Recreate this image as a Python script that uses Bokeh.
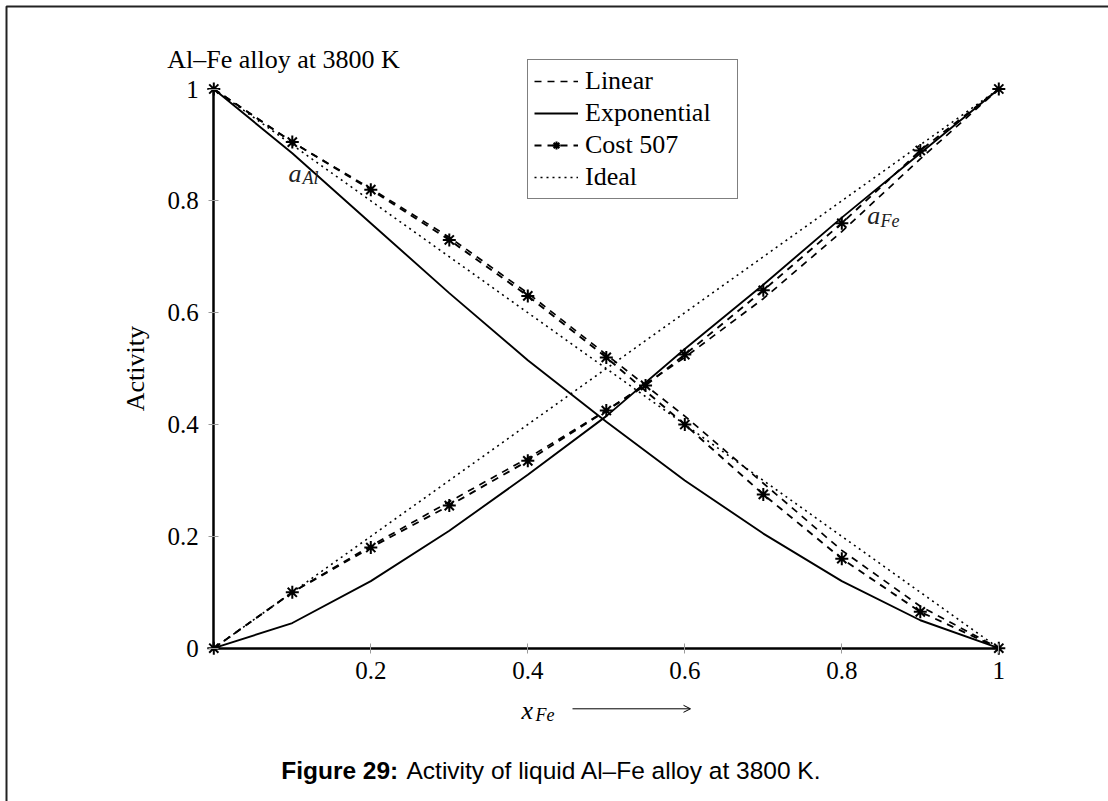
import math
from bokeh.plotting import figure
from bokeh.models import Range1d, FixedTicker, Legend, LegendItem, Arrow, OpenHead
from bokeh.embed import file_html
from bokeh.resources import INLINE
from bokeh.core.properties import value

# ---------------- data ----------------
x_frac = [0.0, 0.1, 0.2, 0.3, 0.4, 0.5, 0.6, 0.7, 0.8, 0.9, 1.0]

linear_al = [1.0, 0.905, 0.822, 0.735, 0.635, 0.525, 0.415, 0.295, 0.175, 0.075, 0.0]
linear_fe = [0.0, 0.100, 0.183, 0.262, 0.340, 0.425, 0.520, 0.625, 0.745, 0.875, 1.0]

expo_al = [1.0, 0.885, 0.760, 0.635, 0.515, 0.405, 0.300, 0.205, 0.120, 0.050, 0.0]
expo_fe = [0.0, 0.045, 0.120, 0.210, 0.310, 0.415, 0.535, 0.650, 0.770, 0.885, 1.0]

cost_x_al = [0.0, 0.1, 0.2, 0.3, 0.4, 0.5, 0.6, 0.7, 0.8, 0.9, 1.0]
cost_al = [1.0, 0.905, 0.820, 0.730, 0.630, 0.520, 0.400, 0.275, 0.160, 0.065, 0.0]
cost_x_fe = [0.0, 0.1, 0.2, 0.3, 0.4, 0.5, 0.55, 0.6, 0.7, 0.8, 0.9, 1.0]
cost_fe = [0.0, 0.100, 0.180, 0.255, 0.335, 0.425, 0.470, 0.525, 0.640, 0.760, 0.890, 1.0]

ideal_x = [0.0, 1.0]
ideal_al = [1.0, 0.0]
ideal_fe = [0.0, 1.0]

x_ticks = [0.2, 0.4, 0.6, 0.8, 1.0]
x_tick_labels = ["0.2", "0.4", "0.6", "0.8", "1"]
y_ticks = [0.0, 0.2, 0.4, 0.6, 0.8, 1.0]
y_tick_labels = ["0", "0.2", "0.4", "0.6", "0.8", "1"]

legend_labels = ["Linear", "Exponential", "Cost 507", "Ideal"]
title_text = "Al–Fe alloy at 3800 K"
ylabel_text = "Activity"
caption_bold = "Figure 29:"
caption_text = "Activity of liquid Al–Fe alloy at 3800 K."

# ---------------- layout helpers (pixel placement) ----------------
W, H = 1108, 801
X0_PX, X1_PX = 213.3, 998.3
Y0_PX, Y1_PX = 647.7, 88.5


def dx(px):
    return (px - X0_PX) / (X1_PX - X0_PX)


def dy(py):
    return (Y0_PX - py) / (Y0_PX - Y1_PX)


SERIF = value("Liberation Serif")
SANS = value("Liberation Sans")

p = figure(width=W, height=H, x_range=Range1d(dx(0), dx(W)), y_range=Range1d(dy(H), dy(0)),
           min_border=0, toolbar_location=None, output_backend="svg", title=None)
p.outline_line_color = None
p.grid.visible = False
p.background_fill_color = "white"
p.border_fill_color = "white"

# axes through the origin
for ax in (p.xaxis[0], p.yaxis[0]):
    ax.fixed_location = 0
    ax.bounds = (0, 1)
    ax.axis_line_width = 2.5
    ax.axis_line_color = "black"
    ax.major_tick_in = 5
    ax.major_tick_out = 5
    ax.major_tick_line_color = "#9a9a9a"
    ax.major_tick_line_width = 1
    ax.minor_tick_line_color = None
    ax.major_label_text_font = "Liberation Serif"
    ax.major_label_text_font_size = "25px"
    ax.major_label_text_color = "black"

p.xaxis[0].ticker = FixedTicker(ticks=x_ticks)
p.xaxis[0].major_label_overrides = {t: l for t, l in zip(x_ticks, x_tick_labels)}
p.xaxis[0].major_label_standoff = 9
p.yaxis[0].ticker = FixedTicker(ticks=y_ticks)
p.yaxis[0].major_label_overrides = {t: l for t, l in zip(y_ticks, y_tick_labels)}
p.yaxis[0].major_label_standoff = 10

DASH = "7 6"
DOT = "2 4"

r_lin_al = p.line(x_frac, linear_al, line_color="black", line_width=1.7, line_dash=DASH)
r_lin_fe = p.line(x_frac, linear_fe, line_color="black", line_width=1.7, line_dash=DASH)
r_exp_al = p.line(x_frac, expo_al, line_color="black", line_width=1.9)
r_exp_fe = p.line(x_frac, expo_fe, line_color="black", line_width=1.9)
r_cost_al = p.line(cost_x_al, cost_al, line_color="black", line_width=1.9, line_dash=DASH)
r_cost_fe = p.line(cost_x_fe, cost_fe, line_color="black", line_width=1.9, line_dash=DASH)
r_id_al = p.line(ideal_x, ideal_al, line_color="black", line_width=1.6, line_dash=DOT)
r_id_fe = p.line(ideal_x, ideal_fe, line_color="black", line_width=1.6, line_dash=DOT)
r_cost_al_pts = p.scatter(cost_x_al, cost_al, marker="asterisk", size=13, line_color="black", line_width=2)
r_cost_fe_pts = p.scatter(cost_x_fe, cost_fe, marker="asterisk", size=13, line_color="black", line_width=2)

# page frame
p.line([dx(W + 10), dx(6), dx(6)], [dy(6), dy(6), dy(H + 10)], line_color="#222222", line_width=2)

# texts
p.text(x=[dx(166.7)], y=[dy(59.3)], text=[title_text], text_font=SERIF, text_font_size="26px",
       text_align="left", text_baseline="alphabetic", text_color="black")
p.text(x=[dx(135)], y=[dy((Y0_PX + Y1_PX) / 2)], text=[ylabel_text], angle=math.pi / 2,
       text_font=SERIF, text_font_size="26px", text_align="center", text_baseline="middle",
       text_color="black")

# curve labels a_Al and a_Fe
p.text(x=[dx(288), dx(866.7)], y=[dy(173), dy(215)], text=["a", "a"], text_font=SERIF,
       text_font_size="26px", text_font_style="italic", text_align="left",
       text_baseline="alphabetic", text_color="#222222")
p.text(x=[dx(302), dx(880)], y=[dy(177), dy(220)], text=["Al", "Fe"], text_font=SERIF,
       text_font_size="18px", text_font_style="italic", text_align="left",
       text_baseline="alphabetic", text_color="#222222")

# x axis label  x_Fe --->
p.text(x=[dx(521)], y=[dy(710)], text=["x"], text_font=SERIF, text_font_size="26px",
       text_font_style="italic", text_align="left", text_baseline="alphabetic", text_color="black")
p.text(x=[dx(535)], y=[dy(714)], text=["Fe"], text_font=SERIF, text_font_size="18px",
       text_font_style="italic", text_align="left", text_baseline="alphabetic", text_color="black")
p.add_layout(Arrow(x_start=dx(572), y_start=dy(708.3), x_end=dx(690), y_end=dy(708.3),
                   line_width=1, line_color="black",
                   end=OpenHead(size=7, line_width=1, line_color="black")))

# caption
p.text(x=[dx(280.7)], y=[dy(770)], text=[caption_bold], text_font=SANS, text_font_size="24.5px",
       text_font_style="bold", text_align="left", text_baseline="alphabetic", text_color="black")
p.text(x=[dx(406)], y=[dy(770)], text=[caption_text], text_font=SANS, text_font_size="24.5px",
       text_align="left", text_baseline="alphabetic", text_color="black")

legend = Legend(items=[
    LegendItem(label=legend_labels[0], renderers=[r_lin_al]),
    LegendItem(label=legend_labels[1], renderers=[r_exp_al]),
    LegendItem(label=legend_labels[2], renderers=[r_cost_al, r_cost_al_pts]),
    LegendItem(label=legend_labels[3], renderers=[r_id_al]),
], location=(527, H - 199))
legend.label_text_font = "Liberation Serif"
legend.label_text_font_size = "26px"
legend.label_text_color = "black"
legend.glyph_width = 44
legend.glyph_height = 20
legend.label_standoff = 7
legend.label_width = 146
legend.spacing = 2
legend.padding = 6
legend.margin = 0
legend.border_line_color = "black"
legend.border_line_width = 1.3
legend.background_fill_color = "white"
legend.background_fill_alpha = 1.0
p.add_layout(legend)

open("out.html", "w").write(file_html(p, INLINE))
